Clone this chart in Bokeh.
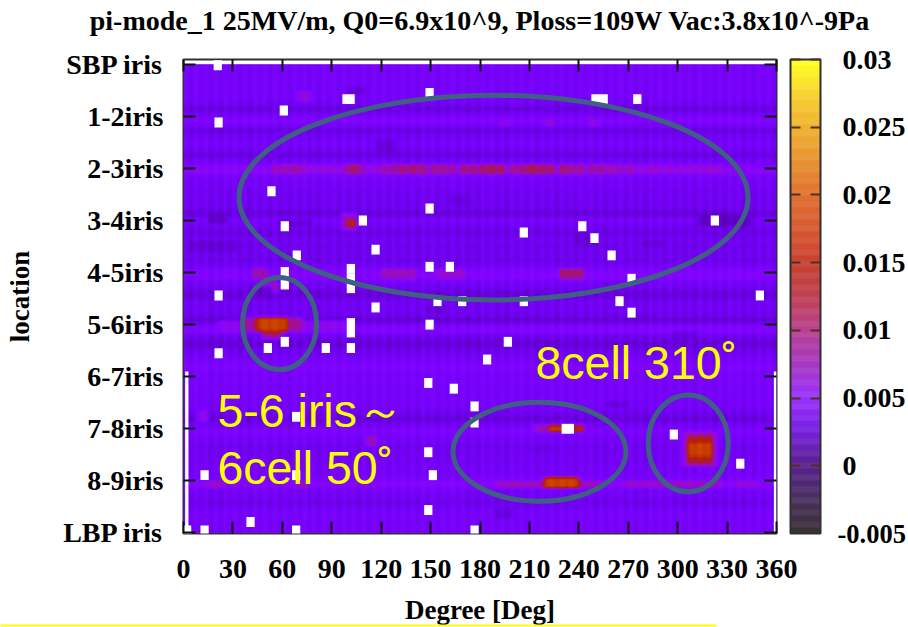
import math
import numpy as np
from bokeh.embed import file_html
from bokeh.resources import INLINE
from bokeh.plotting import figure
from bokeh.models import (LinearAxis, FixedTicker, LinearColorMapper, ColorBar, Range1d)
from bokeh.core.properties import value

TITLE = "pi-mode_1 25MV/m, Q0=6.9x10^9, Ploss=109W Vac:3.8x10^-9Pa"
location_labels = ["LBP iris", "8-9iris", "7-8iris", "6-7iris", "5-6iris",
                   "4-5iris", "3-4iris", "2-3iris", "1-2iris", "SBP iris"]
degree_ticks = [0, 30, 60, 90, 120, 150, 180, 210, 240, 270, 300, 330, 360]
cbar_ticks = [0, 0.005, 0.01, 0.015, 0.02, 0.025, 0.03]
cbar_low = -0.005
cbar_low_label = "-0.005"

# level of each row of sensors, top to bottom, unit 1e-4
row_level = [29, 29, 26, 26, 28, 28, 26, 26, 28, 28, 24, 24, 14, 10, 22,
             32, 44, 30, 18, 12, 20, 24, 26, 26, 24, 20, 8, 22, 26, 42,
             52, 50, 28, 26, 24, 24, 21, 20, 21, 20, 20, 19, 12, 8, 24,
             28, 24, 18, 12, 16, 22, 20, 16, 18, 20, 18, 14, 20, 26, 34,
             44, 42, 28, 24, 20, 12, 8, 12, 22, 22, 20, 20, 18, 4, 10,
             38, 42, 34, 18, 12, 6, 10, 18, 20, 26, 28, 34, 40, 30, 28,
             30, 28, 28, 26, 26, 28, 26, 26, 26, 24, 18, 12, 8, 20, 26,
             38, 32, 26, 26, 22, 20, 20, 22, 22, 22, 24, 24, 26, 26, 34,
             46, 44, 28, 24, 24, 18, 16, 22, 26, 28, 28, 28, 26, 28, 26]

# offset of each 3 degree column, unit 1e-4
col_offset = [5, -5, 6, -3, 5, -6, 3, -5, 6, -3, 5, -5, 3, -6, 6, -3, 5, -5, 6, -5,
              3, -5, 5, -3, 6, -5, 3, -6, 5, -3, 6, -5, 5, -3, 3, -6, 6, -5, 5, -3,
              5, -5, 6, -3, 3, -5, 5, -6, 6, -3, 5, -5, 3, -3, 6, -5, 5, -6, 3, -5,
              6, -3, 5, -5, 3, -6, 6, -3, 5, -5, 6, -5, 3, -3, 5, -6, 6, -5, 3, -5,
              5, -3, 6, -5, 5, -6, 3, -3, 6, -5, 5, -5, 3, -6, 6, -3, 5, -5, 6, -3,
              3, -5, 5, -6, 6, -3, 5, -5, 3, -5, 6, -3, 5, -6, 3, -5, 6, -3, 5, -5]

# patches that differ from their row: degree span, location span, level (1e-4)
patch_deg0 = [64, 57, 65, 101, 123, 131, 141, 153, 160, 170, 178, 182, 188, 200, 209, 219, 229, 237, 249, 258, 269, 284, 321,
              194, 220, 247, 72,
              43, 123, 155, 229, 51, 99, 100, 99,
              24, 38, 46, 50,
              10, 112, 70, 16,
              214, 237, 225,
              190, 220,
              304, 307, 308,
              270, 300, 338,
              314, 16, 5, 60, 150, 280, 240, 100, 165, 120, 45, 260, 300, 190, 215]
patch_deg1 = [320, 60, 69, 106, 127, 136, 146, 157, 164, 174, 182, 186, 193, 204, 213, 224, 233, 241, 253, 261, 272, 287, 324,
              197, 224, 251, 75,
              50, 138, 170, 241, 55, 103, 102, 103,
              97, 69, 60, 57,
              14, 115, 74, 21,
              241, 241, 230,
              253, 237,
              322, 320, 318,
              325, 306, 345,
              342, 24, 30, 75, 156, 290, 250, 108, 172, 128, 52, 268, 310, 198, 222]
patch_loc0 = [6.9] + [6.87] * 22 + [7.83] * 3 + [8.3] + [4.88, 4.88, 4.88, 4.88, 4.62, 5.83, 5.88, 6.0] + [3.88, 3.85, 3.85, 3.72] + [2.14, 1.7, 0.9, 0.9] + [1.95, 1.95, 1.95] + [0.9, 0.87] + [1.28, 1.35, 1.45] + [0.9, 0.9, 0.9] + [5.87, 5.95, 5.4, 5.9, 4.2, 5.45, 5.5, 8.4, 6.3, 7.3, 4.5, 2.4, 3.75, 0.3, 1.55]
patch_loc1 = [7.07] + [7.07] * 22 + [7.93] * 3 + [8.45] + [5.05, 5.05, 5.05, 5.05, 4.8, 6.06, 6.0, 6.1] + [4.07, 4.12, 4.14, 3.88] + [2.3, 1.85, 1.03, 1.03] + [2.08, 2.08, 2.08] + [1.03, 1.08] + [1.92, 1.85, 1.75] + [1.03, 1.03, 1.03] + [6.1, 6.1, 5.62, 6.0, 4.4, 5.62, 5.7, 8.55, 6.45, 7.5, 4.7, 2.55, 3.9, 0.45, 1.7]
patch_val = [62, 78, 82, 100, 82, 92, 96, 90, 82, 94, 86, 100, 104, 88, 104, 100, 96, 88, 84, 80, 78, 70, 68,
             66, 68, 66, 62,
             84, 78, 70, 100, 88, 70, 135, 70,
             56, 90, 172, 100,
             62, 84, 80, 80,
             85, 140, 165,
             78, 172,
             75, 120, 170,
             72, 76, 70,
             0, 2, 6, 8, 8, 6, 8, 6, 10, 8, 4, 8, 10, 12, 12]

# sensors without a reading (white), degree and location
blank_deg = [20.8, 21.3, 60.9, 100.2, 149.4, 53.4, 149.4, 61.5, 108.9, 68.8, 116.6, 149.4, 161.7, 61.5, 61.5,
             101.6, 101.6, 101.6, 21.3, 116.6, 154.2, 169.2, 252.6, 275.5, 322.6, 206.6, 242.1, 249.5, 259.9, 272.0,
             206.6, 264.7, 349.9, 272.0, 101.6, 101.6, 149.4, 61.5, 51.2, 86.4, 101.6, 21.3, 184.3, 196.9, 148.6,
             164.1, 176.7, 176.7, 68.4, 148.6, 12.8, 151.4, 68.4, 148.6, 40.7, 12.8, 68.4, 176.7, 2.2, 233.3, 297.7, 338.0]
blank_loc = [8.98, 7.88, 8.11, 8.33, 8.45, 6.56, 6.23, 5.89, 6.0, 5.33, 5.44, 5.11, 5.11, 5.01, 4.77,
             5.07, 4.88, 4.7, 4.56, 4.33, 4.45, 4.45, 8.33, 8.33, 6.0, 5.77, 5.89, 5.66, 5.33, 4.88,
             4.45, 4.45, 4.56, 4.23, 4.03, 3.85, 4.0, 3.67, 3.55, 3.55, 3.55, 3.45, 3.33, 3.67, 2.88,
             2.77, 2.43, 2.12, 2.23, 1.55, 1.11, 1.11, 1.11, 0.44, 0.21, 0.05, 0.05, 0.05, 0.05, 2.0, 1.89, 1.33]
blank_wid = [5] * 62
blank_wid[3] = 7.5
blank_wid[22] = 10
blank_wid[59] = 7.5

# white runs at the two edges of the lower half
edge_deg = [2, 359.2]
edge_wid = [2, 1.6]
edge_loc = [1.55, 1.55]
edge_hgt = [3.1, 3.1]

# hand-drawn marks: centre degree, centre location, width, height
ring_deg = [188.2, 58.3, 216.1, 306.4]
ring_loc = [6.44, 4.02, 1.56, 1.72]
ring_wid = [309, 45, 105, 48.6]
ring_hgt = [3.93, 1.77, 1.9, 1.86]

note_text = ["5-6 iris\uff5e", "6cell 50\u02da", "8cell 310\u02da"]
note_deg = [20.6, 20.6, 213.7]
note_loc = [2.35, 1.24, 3.26]

# colour-bar colours, bottom to top
cbar_stops = ["#3a3038", "#4a3060", "#5a2090", "#7820e0", "#9a30ff", "#a838c0", "#b84090",
              "#c04050", "#c84030", "#d85830", "#e07030", "#e89030", "#f0b030", "#f8d030", "#ffff20"]


def hex_rgb(c):
    return [int(c[i:i + 2], 16) for i in (1, 3, 5)]


def gnuplot_palette(n=256):
    out = []
    for i in range(n):
        x = i / (n - 1)
        r, g, b = math.sqrt(x), x ** 3, max(0.0, math.sin(2 * math.pi * x))
        out.append("#%02x%02x%02x" % (int(r * 255), int(g * 255), int(b * 255)))
    return out


def bar_palette(n=80):
    out = []
    stops = [hex_rgb(c) for c in cbar_stops]
    for i in range(n):
        t = i / (n - 1) * (len(stops) - 1)
        k = min(int(t), len(stops) - 2)
        f = t - k
        rgb = [stops[k][j] * (1 - f) + stops[k + 1][j] * f for j in range(3)]
        w = 0.06 if i % 2 else 0.0
        rgb = [int(v + (255 - v) * w) for v in rgb]
        out.append("#%02x%02x%02x" % tuple(rgb))
    return out


def soften(m, k=3):
    # the reference is a blurred photograph of the plot: spread each cell a little
    big = np.kron(m, np.ones((k, k)))
    kernel = np.array([1, 2, 3, 2, 1], float)
    kernel /= kernel.sum()
    big = np.apply_along_axis(lambda a: np.convolve(np.pad(a, 2, mode="edge"), kernel, "valid"), 0, big)
    big = np.apply_along_axis(lambda a: np.convolve(np.pad(a, 2, mode="edge"), kernel, "valid"), 1, big)
    return big


levels = np.tile(np.array(row_level, float)[:, None], (1, len(col_offset)))
col_left = np.arange(len(col_offset)) * 3.0
row_centre = 9 - (np.arange(len(row_level)) + 0.5) / 15
for d0, d1, l0, l1, v in zip(patch_deg0, patch_deg1, patch_loc0, patch_loc1, patch_val):
    cols = (col_left + 1.5 >= d0 - 1.5) & (col_left + 1.5 <= d1 + 1.5)
    rows = (row_centre >= l0) & (row_centre <= l1)
    levels[np.ix_(rows, cols)] = v
stripes = np.kron(np.array(col_offset, float), np.ones(3))
matrix = (soften(levels)[::-1] + stripes) * 1e-4

p = figure(width=908, height=627, output_backend="svg", toolbar_location=None,
           x_range=Range1d(0, 360), y_range=Range1d(-0.01, 9.09),
           min_border_left=183, min_border_right=132, min_border_top=59, min_border_bottom=93,
           background_fill_color="white", border_fill_color="white")
p.grid.visible = False
p.outline_line_color = "#303030"
p.outline_line_width = 2

mapper = LinearColorMapper(palette=gnuplot_palette(), low=-0.005, high=0.03)
p.image(image=[matrix], x=0, y=0, dw=360, dh=9, color_mapper=mapper)
p.rect(x=blank_deg, y=blank_loc, width=blank_wid, height=0.19, fill_color="white", line_color=None)
p.rect(x=edge_deg, y=edge_loc, width=edge_wid, height=edge_hgt, fill_color="white", line_color=None)
p.ellipse(x=ring_deg, y=ring_loc, width=ring_wid, height=ring_hgt, fill_color=None,
          line_color="#3f6082", line_width=5)
p.text(x=note_deg, y=note_loc, text=note_text, text_color="#ffff00", text_font=value("Liberation Sans"),
       text_font_size="46.5px", text_baseline="alphabetic")

SERIF = "Liberation Serif"
xa = p.xaxis[0]
xa.ticker = FixedTicker(ticks=degree_ticks)
xa.axis_label = "Degree [Deg]"
ya = p.yaxis[0]
ya.ticker = FixedTicker(ticks=list(range(10)))
ya.major_label_overrides = {i: t for i, t in enumerate(location_labels)}
ya.axis_label = "location"
for a in (xa, ya):
    a.major_tick_in = 12
    a.major_tick_out = 0
    a.minor_tick_in = 0
    a.minor_tick_out = 0
    a.axis_line_color = None
    a.major_tick_line_color = "#101010"
    a.major_tick_line_width = 2
    a.major_label_text_font = SERIF
    a.major_label_text_font_style = "bold"
    a.major_label_text_font_size = "28px"
    a.major_label_text_color = "black"
    a.axis_label_text_font = SERIF
    a.axis_label_text_font_style = "bold"
    a.axis_label_text_font_size = "27px"
    a.axis_label_text_color = "black"
xa.major_label_standoff = 26
xa.axis_label_standoff = 14
ya.major_label_standoff = 20
ya.axis_label_standoff = 25

for side, ticks in (("above", degree_ticks), ("right", list(range(10)))):
    ax = LinearAxis(ticker=FixedTicker(ticks=ticks), major_label_overrides={t: "" for t in ticks},
                    major_label_text_font_size="1px",
                    major_label_standoff=0, major_tick_in=12, major_tick_out=0,
                    minor_tick_in=0, minor_tick_out=0, axis_line_color=None,
                    major_tick_line_color="#101010", major_tick_line_width=2)
    if side == "above":
        # the chart's heading sits on the top axis, clear of the plot
        ax.axis_label = TITLE
        ax.axis_label_standoff = 24
        ax.axis_label_text_font = SERIF
        ax.axis_label_text_font_style = "bold"
        ax.axis_label_text_font_size = "28px"
        ax.axis_label_text_color = "black"
    p.add_layout(ax, side)

bar_mapper = LinearColorMapper(palette=bar_palette(), low=-0.005, high=0.03)

# the lowest label sits a little further left than the others: its own colour bar underneath
low_cb = ColorBar(color_mapper=bar_mapper, ticker=FixedTicker(ticks=[cbar_low]), width=30, height=474,
                  padding=0, margin=0, location=(607, 0), bar_line_color=None,
                  major_tick_line_color=None, minor_tick_line_color=None,
                  major_label_text_font=SERIF, major_label_text_font_style="bold",
                  major_label_text_font_size="26.5px", major_label_text_color="black",
                  label_standoff=17, major_label_overrides={cbar_low: cbar_low_label}, border_line_color=None,
                  background_fill_color=None)
p.add_layout(low_cb)

cb = ColorBar(color_mapper=bar_mapper, ticker=FixedTicker(ticks=cbar_ticks), width=30, height=474,
              padding=0, margin=0, location=(607, 0), bar_line_color="#303030", bar_line_width=2,
              major_tick_in=30, major_tick_out=0, major_tick_line_color="#503020",
              major_tick_line_width=2, major_tick_line_dash="10 10", minor_tick_line_color=None,
              major_label_text_font=SERIF, major_label_text_font_style="bold",
              major_label_text_font_size="28px", major_label_text_color="black",
              label_standoff=22, major_label_overrides={0: "0"}, border_line_color=None,
              background_fill_color=None)
p.add_layout(cb)

# yellow rule under the chart: a one-colour strip
rule_mapper = LinearColorMapper(palette=["#ffff00"], low=0, high=1)
rule = ColorBar(color_mapper=rule_mapper, ticker=FixedTicker(ticks=[]), orientation="horizontal",
                width=716, height=2, padding=0, margin=0, location=(-183, -93),
                bar_line_color=None, border_line_color=None, background_fill_color=None,
                major_tick_line_color=None, minor_tick_line_color=None)
p.add_layout(rule)

open("out.html", "w").write(file_html(p, INLINE))
